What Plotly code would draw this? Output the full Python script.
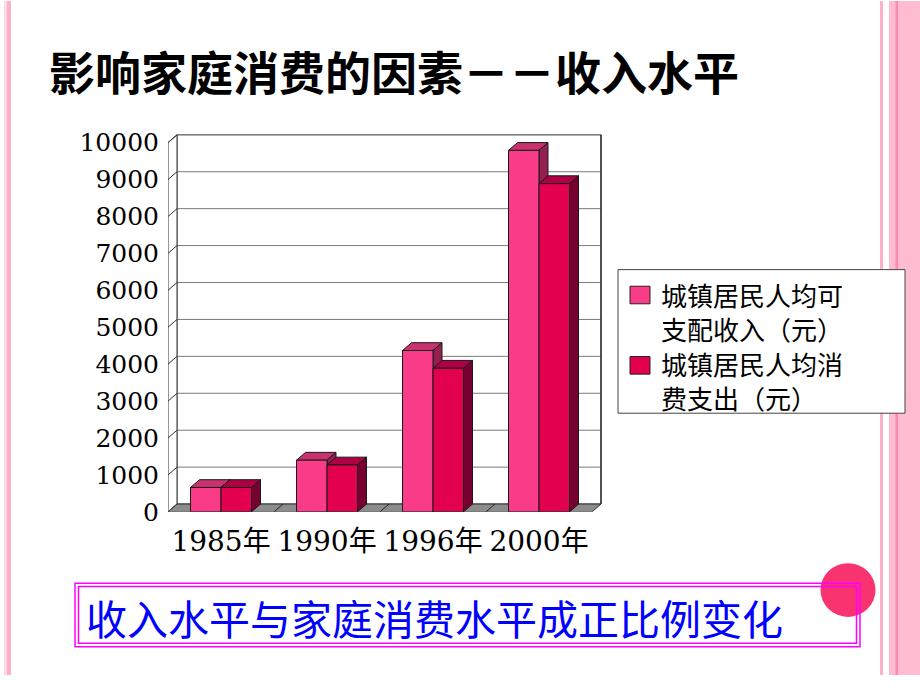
import plotly.graph_objects as go

# ---------------- data ----------------
categories = ["1985年", "1990年", "1996年", "2000年"]
income = [660, 1400, 4370, 9790]        # 城镇居民人均可支配收入（元）
expense = [660, 1270, 3890, 8890]       # 城镇居民人均消费支出（元）
series_names = ["城镇居民人均可支配收入（元）", "城镇居民人均消费支出（元）"]
legend_lines = [["城镇居民人均可", "支配收入（元）"], ["城镇居民人均消", "费支出（元）"]]
y_ticks = list(range(0, 10001, 1000))
y_tick_labels = [str(v) for v in y_ticks]
title_text = "影响家庭消费的因素－－收入水平"
note_text = "收入水平与家庭消费水平成正比例变化"

# ---------------- styles / geometry ----------------
W, H = 920, 690
X_LEFT = 168        # px of front-left edge
CAT_PX = 106        # px per category
Y_ZERO = 523        # px of value 0 (front)
Y_TOP = 145         # px of value 10000 (front)
DEPTH_X, DEPTH_Y = 9, 8
YMAX = 10000
px_per_val = (Y_ZERO - Y_TOP) / YMAX
dx = DEPTH_X / CAT_PX
dy = DEPTH_Y / px_per_val
BW = 30.5 / CAT_PX

DOM_RIGHT_PX = 606
DOM_TOP_PX = 132
x_range = [-0.5, -0.5 + (DOM_RIGHT_PX - X_LEFT) / CAT_PX]
y_range = [0, (Y_ZERO - DOM_TOP_PX) / px_per_val]

colors = {
    "inc": {"front": "#FA3C88", "top": "#C8326E", "side": "#932050"},
    "exp": {"front": "#E3004E", "top": "#B00045", "side": "#760030"},
}
EDGE = "#1a1a1a"


def px(xp):
    return xp / W


def py(yp):
    return 1 - yp / H


fig = go.Figure()
xs = list(range(len(categories)))
n = len(categories)

# front faces of bars
fig.add_trace(go.Bar(x=xs, y=income, width=BW, offset=-BW, name=series_names[0],
                     marker=dict(color=colors["inc"]["front"], line=dict(color=EDGE, width=1)),
                     showlegend=False))
fig.add_trace(go.Bar(x=xs, y=expense, width=BW, offset=0, name=series_names[1],
                     marker=dict(color=colors["exp"]["front"], line=dict(color=EDGE, width=1)),
                     showlegend=False))

shapes = []
L = -0.5
R = n - 0.5


def poly(pts, fill, line_color=EDGE, width=1, layer="below"):
    d = "M " + " L ".join(f"{x},{y}" for x, y in pts) + " Z"
    return dict(type="path", xref="x", yref="y", path=d, fillcolor=fill,
                line=dict(color=line_color, width=width), layer=layer)


def seg(x0, y0, x1, y1, color, width=1, dash="solid"):
    return dict(type="line", xref="x", yref="y", x0=x0, y0=y0, x1=x1, y1=y1,
                line=dict(color=color, width=width, dash=dash), layer="below")


# back wall
shapes.append(poly([(L + dx, dy), (R + dx, dy), (R + dx, YMAX + dy), (L + dx, YMAX + dy)],
                   "white", line_color="#555555"))
# gridlines on back wall
for v in y_ticks:
    shapes.append(seg(L + dx, v + dy, R + dx, v + dy, "#7a7a7a", 1))
# left wall
shapes.append(poly([(L, 0), (L + dx, dy), (L + dx, YMAX + dy), (L, YMAX)], "white",
                   line_color="#333333"))
for v in y_ticks:
    shapes.append(seg(L, v, L + dx, v + dy, "#333333", 1))
# floor
shapes.append(poly([(L, 0), (R, 0), (R + dx, dy), (L + dx, dy)], "#8c8c8c", line_color="#333333"))
for k in range(1, n):
    shapes.append(seg(k - 0.5, 0, k - 0.5 + dx, dy, "#222222", 1))
# back wall right edge
shapes.append(seg(R + dx, dy, R + dx, YMAX + dy, "#333333", 1.5))

# depth faces of bars
for key, vals, off in (("inc", income, -BW), ("exp", expense, 0.0)):
    for i, v in enumerate(vals):
        x0 = i + off
        x1 = x0 + BW
        shapes.append(poly([(x0, v), (x0 + dx, v + dy), (x1 + dx, v + dy), (x1, v)],
                           colors[key]["top"]))
        shapes.append(poly([(x1, 0), (x1, v), (x1 + dx, v + dy), (x1 + dx, dy)],
                           colors[key]["side"]))

# ---------- slide decorations (paper coords) ----------
def prect(x0, y0, x1, y1, fill=None, line=None, lw=0, layer="above"):
    d = dict(type="rect", xref="paper", yref="paper", x0=px(x0), x1=px(x1),
             y0=py(y1), y1=py(y0), layer=layer, line=dict(width=lw, color=line or "rgba(0,0,0,0)"))
    if fill:
        d["fillcolor"] = fill
    return d

# left stripes
shapes.append(prect(4, 0, 5.5, H, fill="#FFD0DC"))
shapes.append(prect(6.5, 0, 11, H, fill="#FFB0C6"))
# right stripes
shapes.append(prect(880, 0, 883, H, fill="#FFB0C6"))
shapes.append(prect(889, 0, 920, H, fill="#FFBCD0"))
shapes.append(prect(895.5, 0, 898, H, fill="#FF88AE"))

# legend box
shapes.append(prect(618, 275, 905, 422, fill="white", line="#444444", lw=1))
shapes.append(prect(630, 292, 650, 310, fill=colors["inc"]["front"], line="#222222", lw=1))
shapes.append(prect(630, 364, 650, 382, fill=colors["exp"]["front"], line="#222222", lw=1))

# circle decoration
shapes.append(dict(type="circle", xref="paper", yref="paper",
                   x0=px(848 - 27.5), x1=px(848 + 27.5), y0=py(603 + 27.5), y1=py(603 - 27.5),
                   fillcolor="#F8336F", line=dict(width=0), layer="above"))
# bottom double box
shapes.append(prect(75, 596, 860, 661, line="#FF00FF", lw=1.5))
shapes.append(prect(78.5, 599.5, 856.5, 657.5, line="#FF00FF", lw=1.5))

annotations = []
annotations.append(dict(xref="paper", yref="paper", x=px(47), y=py(71), xanchor="left",
                        yanchor="middle", text=title_text, showarrow=False,
                        font=dict(family="Noto Sans CJK SC", size=46, color="black", weight="bold")))
annotations.append(dict(xref="paper", yref="paper", x=px(84), y=py(631), xanchor="left",
                        yanchor="middle", text=note_text, showarrow=False,
                        font=dict(family="Noto Sans CJK SC", size=41, color="#0000FF")))
entry_y = [317.5, 389]
for lines, yy in zip(legend_lines, entry_y):
    annotations.append(dict(xref="paper", yref="paper", x=px(659), y=py(yy), xanchor="left",
                            yanchor="middle", align="left", text="<br>".join(lines),
                            showarrow=False,
                            font=dict(family="Noto Sans CJK SC", size=26, color="black")))

fig.update_layout(
    width=W, height=H, margin=dict(l=0, r=0, t=0, b=0),
    paper_bgcolor="white", plot_bgcolor="rgba(0,0,0,0)",
    barmode="overlay", showlegend=False,
    shapes=shapes, annotations=annotations,
    xaxis=dict(domain=[px(X_LEFT), px(DOM_RIGHT_PX)], range=x_range, tickvals=xs,
               ticktext=categories, showgrid=False, zeroline=False, showline=False,
               ticks="", ticklabelstandoff=10,
               tickfont=dict(family="DejaVu Serif, Noto Sans CJK SC", size=28, color="black")),
    yaxis=dict(domain=[py(Y_ZERO), py(DOM_TOP_PX)], range=y_range, tickvals=y_ticks,
               ticktext=y_tick_labels,
               showgrid=False, zeroline=False, showline=False, ticks="",
               ticklabelstandoff=8,
               tickfont=dict(family="DejaVu Serif", size=25, color="black")),
)

fig.write_html("out.html")
